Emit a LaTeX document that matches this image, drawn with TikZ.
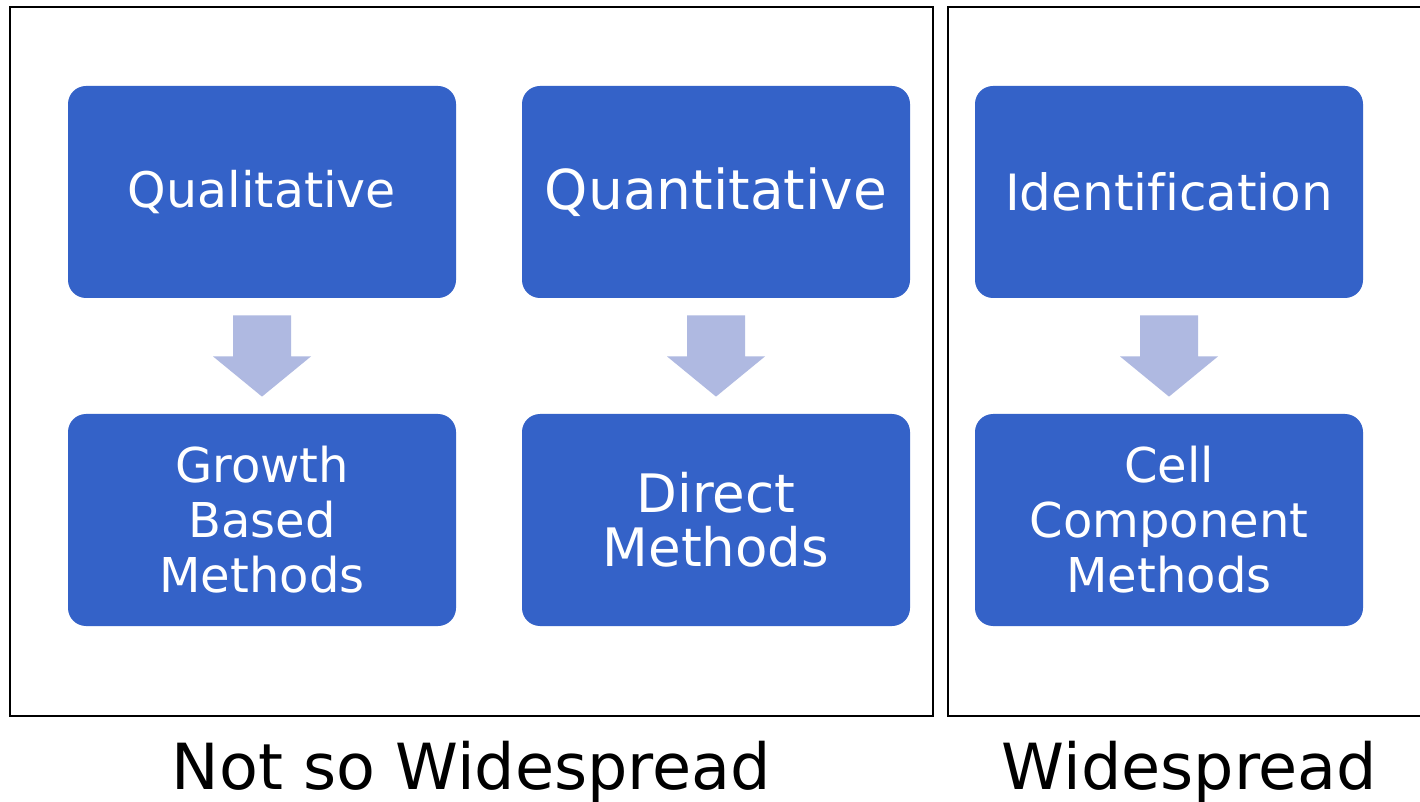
\documentclass[tikz,border=0pt]{standalone}
\usepackage{fontspec}
\setmainfont[Ligatures=NoCommon]{DejaVu Sans}
\usetikzlibrary{calc}
\definecolor{boxblue}{HTML}{3462C8}
\definecolor{arrowblue}{HTML}{AFB9E1}
% block arrow pointing down from node #1 to node #2
\newcommand\blockdown[2]{%
  \fill[arrowblue]
    ($(#1.south)+(-29,17)$) -- ($(#1.south)+(29,17)$) --
    ($(#1.south)+(29,58)$) -- ($(#1.south)+(49,58)$) --
    ($(#2.north)+(0,-17)$) --
    ($(#1.south)+(-49,58)$) -- ($(#1.south)+(-29,58)$) -- cycle;}
\tikzset{
  box/.style={rectangle, rounded corners=9pt, fill=boxblue, text=white,
    minimum width=194pt, minimum height=106pt, inner sep=0pt, align=center},
  frame/.style={draw=black, line width=1.4pt},
  caption/.style={anchor=base, inner sep=0pt, text=black,
    font=\fontsize{31.8}{36}\selectfont},
}
\begin{document}
\begin{tikzpicture}[x=0.5pt, y=-0.5pt]
\useasboundingbox (0,0) rectangle (1420,802);
\clip (0,0) rectangle (1420,802);
\fill[white] (0,0) rectangle (1420,802);

% group frames
\draw[frame] (10,7) rectangle (933,716);
\draw[frame] (948,7) rectangle (1440,716);

% upper row
\node[box, font=\fontsize{24.5}{28}\selectfont] (ql) at (262,192) {Qualitative};
\node[box, font=\fontsize{27.5}{30}\selectfont] (qn) at (716,192) {Quantitative};
\node[box, font=\fontsize{25}{28}\selectfont] (id) at (1169,192) {Identification};

% lower row
\node[box, font=\fontsize{24}{27.5}\selectfont] (gb) at (262,520) {Growth\\Based\\Methods};
\node[box, font=\fontsize{26.5}{27}\selectfont] (dm) at (716,520) {Direct\\Methods};
\node[box, font=\fontsize{24}{27.5}\selectfont] (cc) at (1169,520) {Cell\\Component\\Methods};

% block arrows
\blockdown{ql}{gb}
\blockdown{qn}{dm}
\blockdown{id}{cc}

% group captions
\node[caption] (ns) at (471.5,789) {Not so Widespread};
\node[caption] (ws) at (1189.5,789) {Widespread};
\end{tikzpicture}
\end{document}
